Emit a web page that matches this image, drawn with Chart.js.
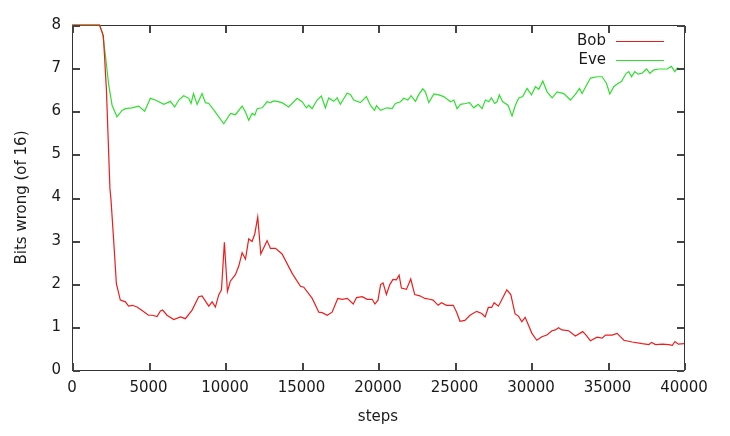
<!DOCTYPE html>
<html>
<head>
<meta charset="utf-8">
<script src="https://cdn.jsdelivr.net/npm/chart.js"></script>
<style>
  body { margin: 0; background: #fff; }
</style>
</head>
<body>
<canvas id="chart" width="730" height="436"></canvas>
<script>
// values
const bobSteps = [0, 1800, 2050, 2250, 2480, 2550, 2725, 2900, 3160, 3490, 3700, 3950, 4250, 4580, 5000, 5250, 5560, 5780, 5920, 6210,
  6650, 7090, 7410, 7850, 8280, 8500, 8940, 9160, 9370, 9590, 9770, 9960, 10160, 10350, 10680, 10900, 11120, 11340, 11550, 11770,
  11950, 12140, 12340, 12750, 12970, 13300, 13730, 14390, 14930, 15150, 15700, 16130, 16350, 16680, 17000, 17370, 17660, 17990, 18380, 18600,
  18970, 19290, 19620, 19800, 20000, 20170, 20330, 20550, 20770, 20980, 21200, 21380, 21530, 21860, 22140, 22400, 22730, 23060, 23390, 23600,
  23930, 24150, 24480, 24920, 25140, 25360, 25680, 26010, 26450, 26780, 27000, 27210, 27430, 27590, 27870, 28130, 28420, 28680, 28960, 29180,
  29400, 29620, 30060, 30380, 30710, 31040, 31370, 31590, 31800, 32020, 32460, 32900, 33380, 33600, 33880, 34320, 34650, 34870, 35300, 35630,
  36070, 36610, 37270, 37710, 37880, 38140, 38580, 39000, 39240, 39410, 39630, 40000];
const bobValues = [8, 8, 7.75, 6.5, 4.2, 3.94, 3.0, 2.0, 1.62, 1.58, 1.48, 1.5, 1.46, 1.38, 1.27, 1.27, 1.24, 1.37, 1.39, 1.27,
  1.17, 1.23, 1.19, 1.39, 1.70, 1.72, 1.48, 1.58, 1.46, 1.74, 1.86, 2.96, 1.82, 2.06, 2.21, 2.41, 2.72, 2.57, 3.04, 2.98,
  3.16, 3.55, 2.69, 3.0, 2.82, 2.82, 2.69, 2.24, 1.94, 1.92, 1.66, 1.34, 1.33, 1.27, 1.34, 1.66, 1.64, 1.66, 1.53, 1.68,
  1.70, 1.64, 1.64, 1.53, 1.62, 1.98, 2.02, 1.75, 1.98, 2.1, 2.09, 2.2, 1.9, 1.87, 2.11, 1.75, 1.72, 1.66, 1.64, 1.62,
  1.50, 1.56, 1.50, 1.50, 1.34, 1.13, 1.15, 1.27, 1.36, 1.31, 1.23, 1.45, 1.45, 1.56, 1.48, 1.66, 1.86, 1.75, 1.30, 1.25,
  1.12, 1.22, 0.85, 0.69, 0.77, 0.81, 0.91, 0.93, 0.98, 0.93, 0.91, 0.79, 0.89, 0.81, 0.68, 0.76, 0.74, 0.81, 0.81, 0.85,
  0.69, 0.65, 0.61, 0.59, 0.64, 0.59, 0.60, 0.59, 0.57, 0.66, 0.60, 0.61];

const eveSteps = [0, 1800, 2000, 2180, 2400, 2620, 2940, 3270, 3490, 3920, 4360, 4750, 5120, 5450, 6000, 6430, 6710, 6980, 7300, 7630,
  7780, 7940, 8180, 8500, 8720, 8940, 9370, 9920, 10360, 10680, 11120, 11340, 11550, 11770, 11950, 12100, 12430, 12750, 12970, 13190,
  13400, 13730, 14160, 14710, 15040, 15320, 15470, 15690, 16020, 16300, 16560, 16780, 17110, 17330, 17540, 17980, 18200, 18410, 18850, 19240,
  19500, 19770, 19900, 20160, 20590, 20920, 21140, 21470, 21680, 21950, 22160, 22450, 22670, 22930, 23100, 23320, 23650, 23970, 24300, 24740,
  24960, 25170, 25390, 25720, 25980, 26260, 26550, 26800, 27020, 27240, 27410, 27630, 27780, 27930, 28150, 28500, 28760, 28980, 29200, 29460,
  29740, 30030, 30290, 30510, 30770, 31050, 31380, 31710, 32140, 32580, 32900, 33170, 33340, 33670, 33890, 34320, 34650, 34930, 35150, 35410,
  35630, 35910, 36220, 36390, 36570, 36780, 37000, 37260, 37550, 37770, 38030, 38350, 38900, 39180, 39400, 39550, 39880, 40000];
const eveValues = [8, 8, 7.8, 7.31, 6.61, 6.14, 5.87, 6.02, 6.06, 6.08, 6.12, 6.0, 6.30, 6.26, 6.16, 6.23, 6.10, 6.26, 6.36, 6.30,
  6.18, 6.41, 6.16, 6.41, 6.20, 6.18, 5.98, 5.71, 5.95, 5.92, 6.12, 5.98, 5.79, 5.95, 5.91, 6.06, 6.08, 6.22, 6.20, 6.24,
  6.23, 6.20, 6.10, 6.30, 6.22, 6.08, 6.14, 6.06, 6.26, 6.35, 6.08, 6.31, 6.23, 6.31, 6.16, 6.42, 6.39, 6.26, 6.20, 6.34,
  6.14, 6.02, 6.13, 6.02, 6.08, 6.06, 6.18, 6.22, 6.30, 6.26, 6.36, 6.23, 6.39, 6.52, 6.45, 6.20, 6.40, 6.38, 6.34, 6.22,
  6.26, 6.06, 6.16, 6.18, 6.20, 6.08, 6.16, 6.06, 6.26, 6.22, 6.31, 6.18, 6.22, 6.38, 6.22, 6.14, 5.89, 6.14, 6.31, 6.34,
  6.53, 6.38, 6.57, 6.51, 6.70, 6.45, 6.31, 6.45, 6.41, 6.26, 6.39, 6.53, 6.41, 6.63, 6.77, 6.80, 6.80, 6.65, 6.40, 6.57,
  6.63, 6.69, 6.88, 6.92, 6.80, 6.92, 6.86, 6.88, 6.98, 6.88, 6.96, 6.98, 6.98, 7.04, 6.92, 7.00, 6.98, 7.00];

const seriesNames = ['Bob', 'Eve'];
const seriesColors = ['#ee1c1c', '#2ee02e'];
const xTicks = [0, 5000, 10000, 15000, 20000, 25000, 30000, 35000, 40000];
const yTicks = [0, 1, 2, 3, 4, 5, 6, 7, 8];

const toPoints = (xs, ys) => xs.map((v, i) => ({ x: v, y: ys[i] }));

const FONT = 'DejaVu Sans';
const TEXT = '#1a1a1a';
const TICK_LEN = 7;

// gnuplot-like frame: border under the data, inward ticks on all four sides, key top right
const framePlugin = {
    id: 'frame',
    beforeDatasetsDraw(chart) {
        const { ctx, chartArea: a } = chart;
        const L = Math.round(a.left), R = Math.round(a.right);
        const T = Math.round(a.top), B = Math.round(a.bottom);
        ctx.save();
        ctx.fillStyle = '#333';
        ctx.fillRect(L, T, R - L + 1, 1);
        ctx.fillRect(L, B, R - L + 1, 1);
        ctx.fillRect(L, T, 1, B - T + 1);
        ctx.fillRect(R, T, 1, B - T + 1);
        ctx.restore();
    },
    afterDraw(chart) {
        const { ctx, chartArea: a } = chart;
        const xScale = chart.scales.x, yScale = chart.scales.y;
        const L = Math.round(a.left), R = Math.round(a.right);
        const T = Math.round(a.top), B = Math.round(a.bottom);
        ctx.save();
        ctx.fillStyle = '#444';
        xTicks.forEach(v => {
            const px = Math.round(xScale.getPixelForValue(v));
            ctx.fillRect(px, B - TICK_LEN, 2, TICK_LEN);
            ctx.fillRect(px, T + 1, 2, TICK_LEN);
        });
        yTicks.forEach(v => {
            const py = Math.round(yScale.getPixelForValue(v));
            ctx.fillRect(L + 1, py, TICK_LEN, 2);
            ctx.fillRect(R - TICK_LEN, py, TICK_LEN, 2);
        });

        ctx.font = '15px "' + FONT + '"';
        ctx.textAlign = 'right';
        ctx.textBaseline = 'middle';
        chart.data.datasets.forEach((ds, i) => {
            const cy = Math.round(a.top + 16 + i * 19);
            ctx.fillStyle = TEXT;
            ctx.fillText(ds.label, a.right - 78, cy);
            ctx.fillStyle = ds.borderColor;
            ctx.fillRect(a.right - 68, cy, 48, 1);
        });
        ctx.restore();
    }
};

new Chart(document.getElementById('chart'), {
    type: 'line',
    data: {
        datasets: [
            { label: seriesNames[0], data: toPoints(bobSteps, bobValues), borderColor: seriesColors[0], clip: false },
            { label: seriesNames[1], data: toPoints(eveSteps, eveValues), borderColor: seriesColors[1], clip: false }
        ]
    },
    options: {
        responsive: false,
        animation: false,
        layout: { padding: { top: 25, right: 46, left: 0, bottom: 0 } },
        elements: {
            line: { borderWidth: 1.2, tension: 0, fill: false },
            point: { radius: 0 }
        },
        plugins: { legend: { display: false }, tooltip: { enabled: false } },
        scales: {
            x: {
                type: 'linear', min: 0, max: 40000,
                afterBuildTicks: s => { s.ticks = xTicks.map(v => ({ value: v })); },
                afterFit: s => { s.height = 66; },
                grid: { display: false, drawTicks: false },
                border: { display: false },
                ticks: { color: TEXT, font: { family: FONT, size: 15 }, padding: 9, maxRotation: 0, callback: v => String(v) },
                title: { display: true, text: 'steps', color: TEXT, font: { family: FONT, size: 15 }, padding: { top: 0, bottom: 10 } }
            },
            y: {
                min: 0, max: 8,
                afterBuildTicks: s => { s.ticks = yTicks.map(v => ({ value: v })); },
                afterFit: s => { s.width = 72; },
                grid: { display: false, drawTicks: false },
                border: { display: false },
                ticks: { color: TEXT, font: { family: FONT, size: 15 }, padding: 11 },
                title: { display: true, text: 'Bits wrong (of 16)', color: TEXT, font: { family: FONT, size: 15 }, padding: { top: 13, bottom: 0 } }
            }
        }
    },
    plugins: [framePlugin]
});
</script>
</body>
</html>
